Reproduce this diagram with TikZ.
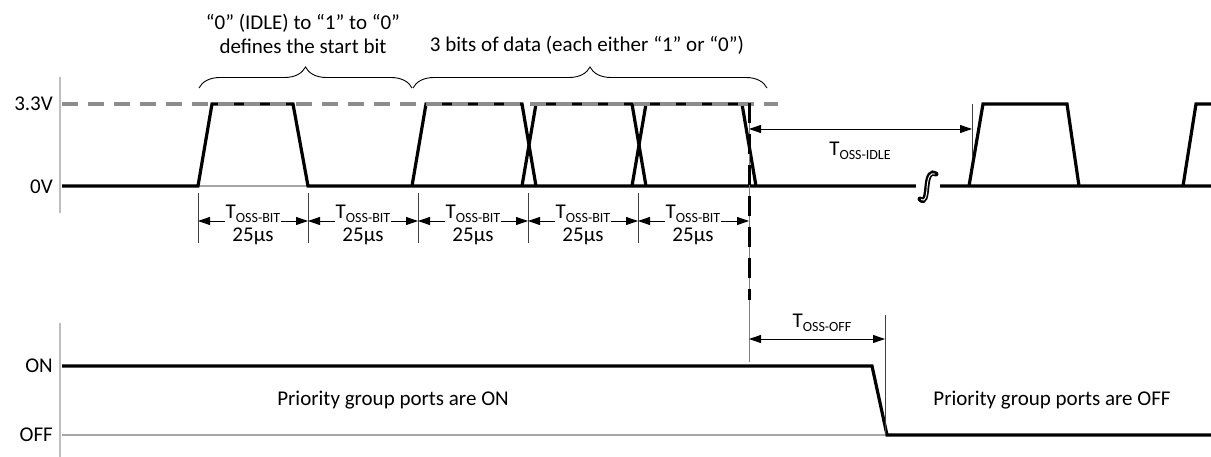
\documentclass[tikz,border=0pt]{standalone}
\usepackage{fontspec}
\setmainfont{Carlito}
\usetikzlibrary{arrows.meta,decorations.pathreplacing,calc}
\definecolor{axisgray}{HTML}{BFBFBF}
\definecolor{levelgray}{HTML}{A6A6A6}
\definecolor{dashgray}{HTML}{8C8C8C}
\newcommand{\tsub}[1]{T{\fontsize{14}{15}\selectfont\raisebox{-4pt}{#1}}}
\tikzset{
  wave/.style={line width=3.2pt, black, line join=miter},
  graylevel/.style={line width=2.6pt, levelgray},
  axisline/.style={line width=2.4pt, axisgray},
  reflevel/.style={line width=3.6pt, dashgray, dash pattern=on 16pt off 10pt},
  extline/.style={line width=0.9pt, black!75},
  dimarrow/.style={line width=0.9pt, black, {Triangle[length=12pt,width=8pt]}-{Triangle[length=12pt,width=8pt]}},
  halfarrow/.style={line width=0.9pt, black, -{Triangle[length=12pt,width=8pt]}},
  lbl/.style={font=\fontsize{21}{24}\selectfont, inner sep=1pt},
  brc/.style={line width=0.9pt, decorate, decoration={brace, amplitude=21pt, aspect=0.5}},
}
\begin{document}
\begin{tikzpicture}[x=1pt,y=-1pt]
\useasboundingbox (0,0) rectangle (1211,457);
% axes
\draw[axisline] (60,77) -- (60,213);
\draw[axisline] (60,323) -- (60,457);
\node[lbl, anchor=east] (v33) at (54,104) {3.3V};
\node[lbl, anchor=east] (v0) at (54,187) {0V};
\node[lbl, anchor=east] (on) at (54,366) {ON};
\node[lbl, anchor=east] (off) at (54,435) {OFF};
% top waveform
\draw[graylevel] (198,186) -- (308,186);
\draw[wave] (62,186) -- (198,186) -- (212,104) -- (293,104) -- (308,186) -- (1211,186);
\draw[wave] (412,186) -- (426,104) -- (522,104) -- (536,186);
\draw[wave] (522,186) -- (536,104) -- (632,104) -- (646,186);
\draw[wave] (632,186) -- (646,104) -- (742,104) -- (756,186);
\draw[wave] (969,186) -- (983,104) -- (1067,104) -- (1079,186);
\draw[wave] (1183,186) -- (1196,104) -- (1211,104);
% break symbol
\fill[white] (916,180) rectangle (940,192);
\draw[line width=5pt, black, line cap=round] (920,199) .. controls (925,204) and (926,196) .. (927,186) .. controls (928,175) and (931,171) .. (936,174);
\draw[line width=0.9pt, white] (921,199.5) .. controls (925.5,202.5) and (926.6,196) .. (927.2,186) .. controls (928.2,176) and (930.5,172.5) .. (935,174);
% reference level 3.3V
\draw[reflevel] (62,104) -- (778,104);
% vertical marker
\draw[extline, black!50] (749,104) -- (749,362);
\draw[line width=3pt, black, dash pattern=on 20pt off 11pt] (749,103) -- (749,300);
% braces
\draw[brc] (199,88) -- (412,88);
\draw[brc] (413,88) -- (767,88);
\node[lbl, align=center] (txtstart) at (303,34) {“0” (IDLE) to “1” to “0”\\defines the start bit};
\node[lbl] (txtdata) at (587,45) {3 bits of data (each either “1” or “0”)};
% T_OSS-BIT dimensions
\foreach \n/\x in {a/198,b/308,c/418,d/528,e/638}{
  \coordinate (t\n) at (\x,193);
  \draw[extline] (t\n) -- ++(0,50);
}
\coordinate (tf) at (749,193);
\foreach \l/\r/\x in {a/b/253,b/c/363,c/d/473,d/e/583,e/f/693}{
  \node[lbl, anchor=base] (bit\l) at (\x,219) {\tsub{OSS-BIT}};
  \node[lbl] (us\l) at (\x,236) {25µs};
  \draw[halfarrow] ([yshift=-2pt]bit\l.base west) -- ([yshift=-2pt]t\l |- bit\l.base west);
  \draw[halfarrow] ([yshift=-2pt]bit\l.base east) -- ([yshift=-2pt]t\r |- bit\l.base east);
}
% T_OSS-IDLE
\coordinate (idleL) at (749,129);
\coordinate (idleR) at (972,129);
\draw[extline] (972,104) -- (972,157);
\draw[dimarrow] (idleL) -- (idleR);
\node[lbl] (idle) at (860,151) {\tsub{OSS-IDLE}};
% bottom waveform
\draw[graylevel] (62,435) -- (887,435);
\draw[wave] (62,366) -- (872,366) -- (887,435) -- (1211,435);
% T_OSS-OFF
\coordinate (offL) at (749,339);
\coordinate (offR) at (885,339);
\draw[extline] (885,315) -- (885,435);
\draw[dimarrow] (offL) -- (offR);
\node[lbl] (toff) at (822,323) {\tsub{OSS-OFF}};
\node[lbl] (pon) at (393,400) {Priority group ports are ON};
\node[lbl] (poff) at (1052,400) {Priority group ports are OFF};
\end{tikzpicture}
\end{document}
